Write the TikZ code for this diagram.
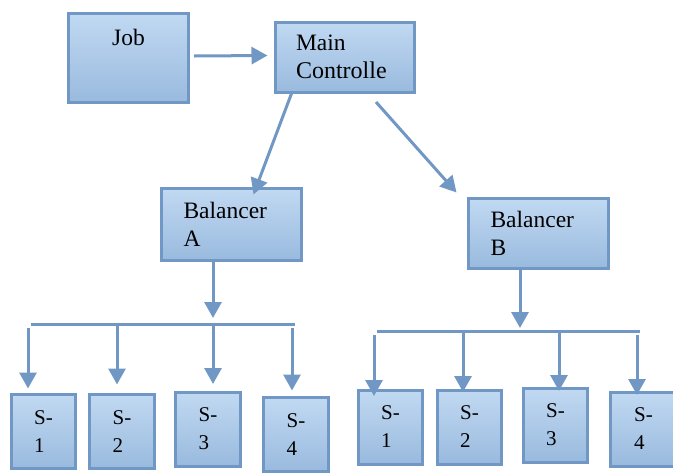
\documentclass[tikz,border=0pt]{standalone}
\usepackage{fontspec}
\setmainfont{Liberation Serif}
\usepackage{tikz}
\usetikzlibrary{arrows.meta}
\definecolor{boxLine}{RGB}{113,152,196}
\definecolor{boxTop}{RGB}{193,217,242}
\definecolor{boxBottom}{RGB}{153,186,222}
\tikzstyle{dBox} = [rectangle, draw=boxLine, line width=3pt, top color=boxTop, bottom color=boxBottom, align=left, font=\fontsize{23.5}{28}\selectfont]
\tikzstyle{dServer} = [dBox, minimum width=64pt, minimum height=74pt, font=\fontsize{21}{28}\selectfont]
\tikzstyle{dLine} = [draw=boxLine, line width=3pt]
\tikzstyle{dArrow} = [dLine, -{Triangle[length=16pt,width=17pt]}]

\begin{document}
\begin{tikzpicture}[x=1pt, y=-1pt]
    \useasboundingbox (0,0) rectangle (673,472);

    \node (job) [dBox, minimum width=120pt, minimum height=89pt, text depth=41pt] at (128.5,58) {Job};
    \node (main) [dBox, minimum width=139pt, minimum height=70pt, text width=98pt, inner xsep=20.5pt] at (345,57) {Main\\{\fontsize{24}{28}\selectfont Controlle}};
    \node (balA) [dBox, minimum width=140pt, minimum height=72pt, text width=96pt, inner xsep=22pt] at (231.5,224.5) {Balancer\\A};
    \node (balB) [dBox, minimum width=140pt, minimum height=70pt, text width=96pt, inner xsep=22pt] at (538.5,233.5) {Balancer\\B};

    % servers under balancer A
    \node (s1a) [dServer] at (43.5,431.5) {S-\\1};
    \node (s2a) [dServer, minimum width=65pt] at (122,431.5) {S-\\2};
    \node (s3a) [dServer, minimum width=65pt] at (208,429) {S-\\3};
    \node (s4a) [dServer, minimum width=65pt] at (296,434.5) {S-\\4};

    % servers under balancer B
    \node (s1b) [dServer] at (390.5,427) {S-\\1};
    \node (s2b) [dServer] at (469.5,427) {S-\\2};
    \node (s3b) [dServer] at (555.5,425) {S-\\3};
    \node (s4b) [dServer, minimum width=67pt] at (643.5,429) {S-\\4};

    \draw [dArrow] ([shift={(4,-2)}]job.east) -- ([shift={(-6.5,-1.5)}]main.west);
    \draw [dArrow] ([shift={(17.5,0)}]main.south west) -- ([shift={(93.5,7.5)}]balA.north west);
    \draw [dArrow] ([shift={(31,8.5)}]main.south) -- ([shift={(-10.5,-4.5)}]balB.north west);

    % bus A
    \coordinate (busAl) at (31,324);
    \coordinate (busAr) at (295,324);
    \coordinate (busA) at (213,324);
    \coordinate (a1) at (28,328);
    \coordinate (a2) at (117,324);
    \coordinate (a3) at (213,324);
    \coordinate (a4) at (292,328);
    \draw [dLine] (busAl) -- (busAr);
    \draw [dArrow, shorten >=6pt] ([xshift=-18.5pt]balA.south) -- (busA);
    \draw [dArrow, shorten >=4.5pt] (a1) -- (a1 |- s1a.north);
    \draw [dArrow, shorten >=8.5pt] (a2) -- (a2 |- s2a.north);
    \draw [dArrow, shorten >=6.5pt] (a3) -- (a3 |- s3a.north);
    \draw [dArrow, shorten >=5.5pt] (a4) -- (a4 |- s4a.north);

    % bus B
    \coordinate (busBl) at (377,331);
    \coordinate (busBr) at (640,331);
    \coordinate (busB) at (520,331);
    \coordinate (b1) at (374,335);
    \coordinate (b2) at (463,331);
    \coordinate (b3) at (559,331);
    \coordinate (b4) at (637,335);
    \draw [dLine] (busBl) -- (busBr);
    \draw [dArrow, shorten >=3pt] ([xshift=-18.5pt]balB.south) -- (busB);
    \draw [dArrow, shorten >=-7.5pt] (b1) -- (b1 |- s1b.north);
    \draw [dArrow, shorten >=-3.5pt] (b2) -- (b2 |- s2b.north);
    \draw [dArrow, shorten >=-4.5pt] (b3) -- (b3 |- s3b.north);
    \draw [dArrow, shorten >=-4.5pt] (b4) -- (b4 |- s4b.north);
\end{tikzpicture}
\end{document}
